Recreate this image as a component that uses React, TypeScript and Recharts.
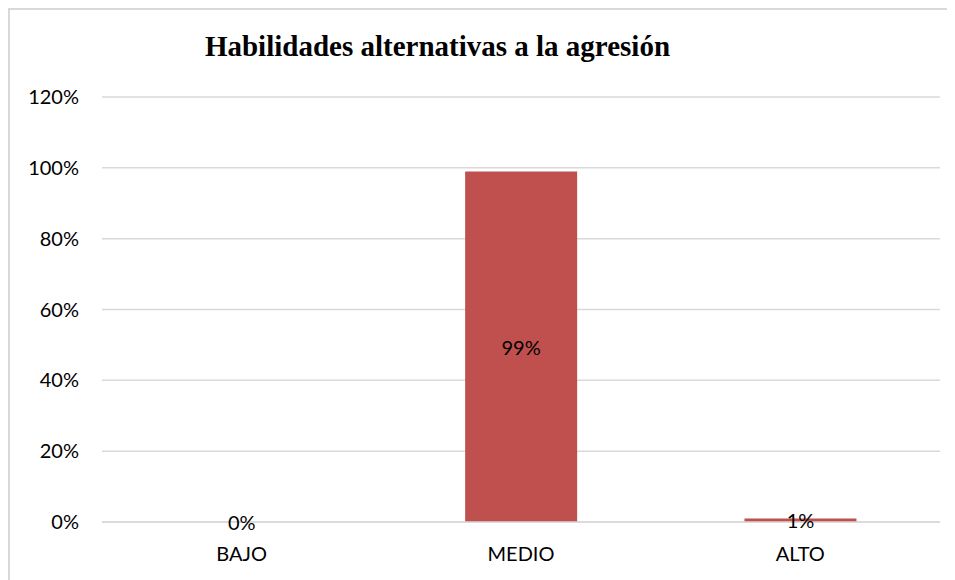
import { BarChart, Bar, XAxis, YAxis, CartesianGrid } from 'recharts';

const categories = ['BAJO', 'MEDIO', 'ALTO'];
const percentages = [0, 99, 1];
const yTicks = [0, 20, 40, 60, 80, 100, 120];

const data = categories.map((name, i) => ({ name, value: percentages[i] }));

const FONT = 'Lato, "Open Sans", sans-serif';

// bar label in the middle of the bar, drawn even for a zero-height bar
function CenterLabel(props: any) {
  const { x, y, width, height, value } = props;
  if (x == null || y == null) return null;
  return (
    <text
      x={Number(x) + Number(width) / 2}
      y={Number(y) + Number(height || 0) / 2}
      textAnchor="middle"
      dominantBaseline="central"
      fontSize={20}
      fontFamily={FONT}
      fill="#000"
    >
      {`${value}%`}
    </text>
  );
}

export default function App() {
  return (
    <div
      style={{
        position: 'relative',
        width: 942,
        height: 570,
        border: '2px solid #D9D9D9',
        background: '#fff',
      }}
    >
      <div
        style={{
          position: 'absolute',
          left: 0,
          width: 855,
          top: 20,
          textAlign: 'center',
          fontFamily: '"Liberation Serif", "Times New Roman", serif',
          fontWeight: 'bold',
          fontSize: 29,
          lineHeight: '32px',
        }}
      >
        Habilidades alternativas a la agresión
      </div>
      <BarChart
        width={942}
        height={570}
        data={data}
        margin={{ top: 87, right: 12, bottom: 28, left: 20 }}
        barCategoryGap="30%"
      >
        <CartesianGrid horizontal vertical={false} stroke="#D9D9D9" strokeWidth={1.5} />
        <XAxis
          dataKey="name"
          axisLine={{ stroke: '#D9D9D9', strokeWidth: 1.5 }}
          tickLine={false}
          tickSize={0}
          tickMargin={25}
          height={30}
          tick={{ fontSize: 20, fill: '#000', fontFamily: FONT }}
        />
        <YAxis
          domain={[0, 120]}
          ticks={yTicks}
          axisLine={false}
          tickLine={false}
          tickSize={0}
          tickMargin={23}
          width={72}
          tickFormatter={(v) => `${v}%`}
          tick={{ fontSize: 20, fill: '#000', fontFamily: FONT }}
        />
        <Bar
          dataKey="value"
          fill="#C0504D"
          minPointSize={0.01}
          isAnimationActive={false}
          label={CenterLabel}
        />
      </BarChart>
    </div>
  );
}
